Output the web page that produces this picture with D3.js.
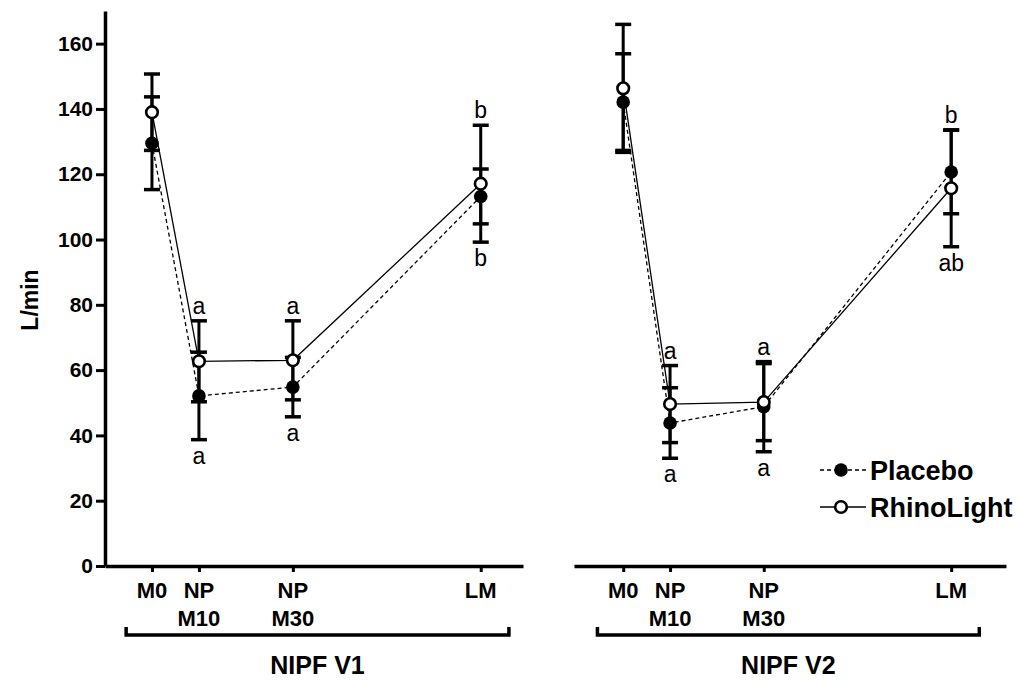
<!DOCTYPE html>
<html>
<head>
<meta charset="utf-8">
<script src="https://cdn.jsdelivr.net/npm/d3@7"></script>
<style>
  body { margin: 0; background: #fff; }
  text { font-family: "Liberation Sans", Arial, sans-serif; fill: #000; }
</style>
</head>
<body>
<svg id="chart" width="1020" height="680"></svg>
<script>
/** Time points (minutes) and their axis labels */
var minutes = [0, 10, 30, 70];
var tickLabels = [["M0"], ["NP", "M10"], ["NP", "M30"], ["LM"]];

/** NIPF V1 - means and SD */
var v1Placebo = [129.5, 52.1, 54.8, 113.2],
    v1PlaceboSd = [14.2, 13.4, 9.1, 8.4],
    v1Rhino = [139.0, 62.7, 63.0, 117.1],
    v1RhinoSd = [11.7, 12.4, 12.1, 17.9];

/** NIPF V2 - means and SD */
var v2Placebo = [142.1, 43.8, 48.8, 120.7],
    v2PlaceboSd = [14.8, 10.8, 13.8, 12.8],
    v2Rhino = [146.3, 49.6, 50.2, 115.7],
    v2RhinoSd = [19.6, 11.8, 11.8, 17.9];

/** significance letters above / below each time point */
var v1Above = ["", "a", "a", "b"],
    v1Below = ["", "a", "a", "b"],
    v2Above = ["", "a", "a", "b"],
    v2Below = ["", "a", "a", "ab"];

var yTicks = [0, 20, 40, 60, 80, 100, 120, 140, 160];
var groupNames = ["NIPF V1", "NIPF V2"];
var seriesNames = ["Placebo", "RhinoLight"];

var svg = d3.select("#chart");

var y = d3.scaleLinear().domain([0, 170]).range([566, 11]);

// panel layout (pixel ranges of each x axis)
var panels = [
    { name: groupNames[0], dom: [-10, 79], range: [105, 523],
      placebo: v1Placebo, placeboSd: v1PlaceboSd, rhino: v1Rhino, rhinoSd: v1RhinoSd,
      above: v1Above, below: v1Below },
    { name: groupNames[1], dom: [-10.5, 81.7], range: [574, 1006],
      placebo: v2Placebo, placeboSd: v2PlaceboSd, rhino: v2Rhino, rhinoSd: v2RhinoSd,
      above: v2Above, below: v2Below }
];

/** y axis (left panel only) */
var yAxis = svg.append("g")
    .attr("transform", "translate(105,0)")
    .call(d3.axisLeft(y).tickValues(yTicks).tickSize(9).tickSizeOuter(0).tickPadding(3));
yAxis.select(".domain").attr("stroke-width", 3.5);
yAxis.selectAll(".tick line").attr("stroke-width", 3);
yAxis.selectAll(".tick text")
    .style("font-size", "21px").style("font-weight", "bold")
    .style("font-family", "Liberation Sans, Arial, sans-serif");

svg.append("text")
    .attr("transform", "translate(38,300) rotate(-90)")
    .attr("text-anchor", "middle")
    .style("font-size", "23px").style("font-weight", "bold")
    .text("L/min");

panels.forEach(function (p) {
    var x = d3.scaleLinear().domain(p.dom).range(p.range);
    var g = svg.append("g");

    // x axis
    var xa = g.append("g")
        .attr("transform", "translate(0," + y(0) + ")")
        .call(d3.axisBottom(x).tickValues(minutes).tickSize(6).tickSizeOuter(0).tickFormat(""));
    xa.select(".domain").attr("stroke-width", 3.5);
    xa.selectAll(".tick line").attr("stroke-width", 3);

    // category labels (two lines)
    var lab = g.selectAll(".xlab").data(minutes).enter()
        .append("text")
        .attr("class", "xlab")
        .attr("text-anchor", "middle")
        .style("font-size", "22px").style("font-weight", "bold");
    lab.each(function (m, i) {
        var t = d3.select(this);
        tickLabels[i].forEach(function (s, k) {
            t.append("tspan").attr("x", x(m)).attr("y", 598 + k * 28).text(s);
        });
    });

    // bracket under the group
    var bx0 = x(-5.5), bx1 = x(76);
    g.append("path")
        .attr("d", "M" + bx0 + ",627V635H" + bx1 + "V627")
        .attr("fill", "none").attr("stroke", "#000").attr("stroke-width", 3.5);
    g.append("text")
        .attr("x", (bx0 + bx1) / 2).attr("y", 674)
        .attr("text-anchor", "middle")
        .style("font-size", "25px").style("font-weight", "bold")
        .text(p.name);

    // error bars
    function errBars(mean, sd) {
        var eb = g.append("g");
        minutes.forEach(function (m, i) {
            var cx = x(m), top = y(mean[i] + sd[i]), bot = y(mean[i] - sd[i]);
            eb.append("line").attr("x1", cx).attr("x2", cx).attr("y1", top).attr("y2", bot)
                .attr("stroke", "#000").attr("stroke-width", 3);
            [top, bot].forEach(function (yy) {
                eb.append("line").attr("x1", cx - 8).attr("x2", cx + 8).attr("y1", yy).attr("y2", yy)
                    .attr("stroke", "#000").attr("stroke-width", 3.5);
            });
        });
    }
    errBars(p.placebo, p.placeboSd);
    errBars(p.rhino, p.rhinoSd);

    // connecting lines
    var line = d3.line().x(function (d, i) { return x(minutes[i]); }).y(function (d) { return y(d); });
    g.append("path").datum(p.placebo).attr("d", line)
        .attr("fill", "none").attr("stroke", "#000").attr("stroke-width", 1.3)
        .attr("stroke-dasharray", "4,3");
    g.append("path").datum(p.rhino).attr("d", line)
        .attr("fill", "none").attr("stroke", "#000").attr("stroke-width", 1.3);

    // markers
    g.selectAll(".pl").data(p.placebo).enter().append("circle")
        .attr("cx", function (d, i) { return x(minutes[i]); })
        .attr("cy", function (d) { return y(d); })
        .attr("r", 6.8).attr("fill", "#000");
    g.selectAll(".rh").data(p.rhino).enter().append("circle")
        .attr("cx", function (d, i) { return x(minutes[i]); })
        .attr("cy", function (d) { return y(d); })
        .attr("r", 5.8).attr("fill", "#fff").attr("stroke", "#000").attr("stroke-width", 2.6);

    // significance letters
    minutes.forEach(function (m, i) {
        var top = Math.max(p.placebo[i] + p.placeboSd[i], p.rhino[i] + p.rhinoSd[i]);
        var bot = Math.min(p.placebo[i] - p.placeboSd[i], p.rhino[i] - p.rhinoSd[i]);
        if (p.above[i]) g.append("text").attr("x", x(m)).attr("y", y(top) - 7)
            .attr("text-anchor", "middle").style("font-size", "23px").text(p.above[i]);
        if (p.below[i]) g.append("text").attr("x", x(m)).attr("y", y(bot) + 24)
            .attr("text-anchor", "middle").style("font-size", "23px").text(p.below[i]);
    });
});

/** legend */
var legend = svg.append("g").attr("transform", "translate(820,0)");
var legRows = [{ y: 470, dash: "4,3", fill: "#000" }, { y: 507, dash: null, fill: "#fff" }];
legRows.forEach(function (r, i) {
    legend.append("line").attr("x1", 0).attr("x2", 46).attr("y1", r.y).attr("y2", r.y)
        .attr("stroke", "#000").attr("stroke-width", 1.3)
        .attr("stroke-dasharray", r.dash);
    legend.append("circle").attr("cx", 21).attr("cy", r.y)
        .attr("r", i === 0 ? 6.8 : 5.8).attr("fill", r.fill)
        .attr("stroke", "#000").attr("stroke-width", i === 0 ? 0 : 2.6);
    legend.append("text").attr("x", 50).attr("y", r.y + 10)
        .style("font-size", "27px").style("font-weight", "bold")
        .text(seriesNames[i]);
});
</script>
</body>
</html>
